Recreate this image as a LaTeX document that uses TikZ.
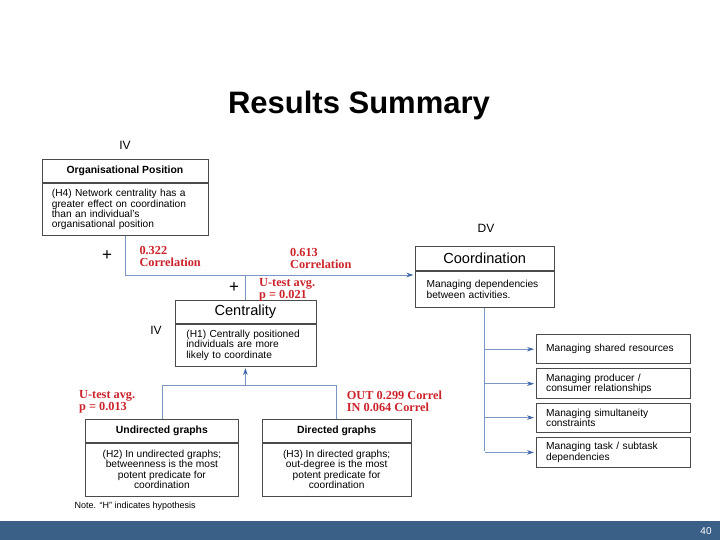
\documentclass[tikz,border=0pt]{standalone}
\usepackage{fontspec}
\setmainfont{Liberation Sans}
\newfontfamily\redfont{Liberation Serif}
\usetikzlibrary{arrows.meta}

\definecolor{linkblue}{RGB}{122,150,196}
\definecolor{tipblue}{RGB}{62,102,168}
\definecolor{boxgray}{RGB}{75,75,75}
\definecolor{redlbl}{RGB}{204,34,42}
\definecolor{barblue}{RGB}{58,96,135}

\tikzset{
  boxtitle/.style={draw=boxgray, line width=0.8pt, inner sep=0pt, anchor=north west, align=center},
  boxbody/.style={draw=boxgray, line width=0.8pt, inner sep=0pt, anchor=north, font=\fontsize{10.2}{10.4}\selectfont},
  smalltitle/.style={font=\bfseries\fontsize{10.4}{12}\selectfont},
  bigtitle/.style={font=\fontsize{14.6}{16}\selectfont},
  link/.style={draw=linkblue, line width=0.8pt},
  arr/.style={link, shorten >=1.5pt, -{Stealth[length=7pt,width=4.5pt,color=tipblue]}},
  redlabel/.style={text=redlbl, font=\redfont\bfseries\fontsize{12.3}{12.2}\selectfont, align=left, anchor=north west, inner sep=0pt},
  varlabel/.style={font=\fontsize{12}{14}\selectfont, inner sep=0pt, anchor=base},
}

\begin{document}
\begin{tikzpicture}[x=1pt,y=-1pt]
    \useasboundingbox (0,0) rectangle (720,540);

    % Titre et bandeau du bas
    \node[anchor=base, font=\bfseries\fontsize{31}{36}\selectfont] (title) at (359,113.5) {Results Summary};
    \fill[barblue] (0,521) rectangle (720,540);
    \node[text=white, font=\fontsize{10}{11}\selectfont] (page) at (706,531.5) {40};

    % Organisational Position
    \node[boxtitle, smalltitle, minimum width=166pt, minimum height=23.5pt] (orgT) at (41.5,159) {Organisational Position};
    \node[boxbody, minimum width=166pt, minimum height=52pt, text width=146pt, align=left] (org) at (orgT.south)
        {(H4) Network centrality has a\\greater effect on coordination\\than an individual's\\organisational position};

    % Coordination
    \node[boxtitle, bigtitle, minimum width=138.5pt, minimum height=24.5pt] (coordT) at (415,245.5) {Coordination};
    \node[boxbody, minimum width=138.5pt, minimum height=36.5pt, text width=116pt, align=left] (coord) at (coordT.south)
        {Managing dependencies\\between activities.};

    % Centrality
    \node[boxtitle, bigtitle, minimum width=141pt, minimum height=23.3pt] (centT) at (174.5,300) {Centrality};
    \node[boxbody, minimum width=141pt, minimum height=41.7pt, text width=118pt, align=left] (cent) at (centT.south)
        {(H1) Centrally positioned\\individuals are more\\likely to coordinate};

    % Undirected / Directed graphs
    \node[boxtitle, smalltitle, minimum width=153pt, minimum height=22.7pt] (undT) at (85,419) {Undirected graphs};
    \node[boxbody, minimum width=153pt, minimum height=53.3pt, align=center] (und) at (undT.south)
        {(H2) In undirected graphs;\\betweenness is the most\\potent predicate for\\coordination};
    \node[boxtitle, smalltitle, minimum width=149.5pt, minimum height=22.7pt] (dirT) at (261.5,419) {Directed graphs};
    \node[boxbody, minimum width=149.5pt, minimum height=53.3pt, align=center] (dir) at (dirT.south)
        {(H3) In directed graphs;\\out-degree is the most\\potent predicate for\\coordination};

    % Boites de droite
    \node[boxtitle, boxbody, anchor=north west, minimum width=154.5pt, minimum height=29pt, text width=134pt, align=left] (res) at (535.5,334.3)
        {Managing shared resources};
    \node[boxtitle, boxbody, anchor=north west, minimum width=154.5pt, minimum height=30pt, text width=134pt, align=left] (prod) at (535.5,368.3)
        {Managing producer /\\consumer relationships};
    \node[boxtitle, boxbody, anchor=north west, minimum width=154.5pt, minimum height=29pt, text width=134pt, align=left] (simu) at (535.5,402.7)
        {Managing simultaneity\\constraints};
    \node[boxtitle, boxbody, anchor=north west, minimum width=154.5pt, minimum height=29.4pt, text width=134pt, align=left] (task) at (535.5,437.3)
        {Managing task / subtask\\dependencies};

    % Variables
    \node[varlabel] (ivA) at (125,150) {IV};
    \node[varlabel] (ivB) at (156,334.5) {IV};
    \node[varlabel] (dv) at (486,232.3) {DV};
    \node[font=\fontsize{17}{18}\selectfont, inner sep=0pt] (plusA) at (107,255.5) {+};
    \node[font=\fontsize{17}{18}\selectfont, inner sep=0pt] (plusB) at (234,287.5) {+};

    % Resultats en rouge
    \node[redlabel] (corA) at (139.3,246) {0.322\\Correlation};
    \node[redlabel] (corB) at (290,248.3) {0.613\\Correlation};
    \node[redlabel] (utA) at (259,278.5) {U-test avg.\\p = 0.021};
    \node[redlabel] (utB) at (79,390) {U-test avg.\\p = 0.013};
    \node[redlabel] (outin) at (346.7,390.8) {OUT 0.299 Correl\\IN 0.064 Correl};

    % Liaisons
    \coordinate (jA) at (124.5,275);
    \coordinate (jC) at (161.5,385);
    \draw[arr] (org.south) |- (coordT.west |- jA);
    \draw[link] (centT.north) -- (centT.north |- jA);
    \draw[link] (coord.south) -- ([yshift=1.5pt]coord.south |- task.west);
    \foreach \b in {res,prod,simu,task}
        \draw[arr] (coord.south |- \b.west) -- (\b.west);
    \draw[link] (undT.north) |- (dirT.north |- jC) -- (dirT.north);
    \draw[arr] (cent.south |- jC) -- (cent.south);

    % Note
    \node[anchor=base west, font=\fontsize{9}{10}\selectfont, inner sep=0pt] (note) at (74.5,508) {Note. ``H'' indicates hypothesis};
\end{tikzpicture}
\end{document}
